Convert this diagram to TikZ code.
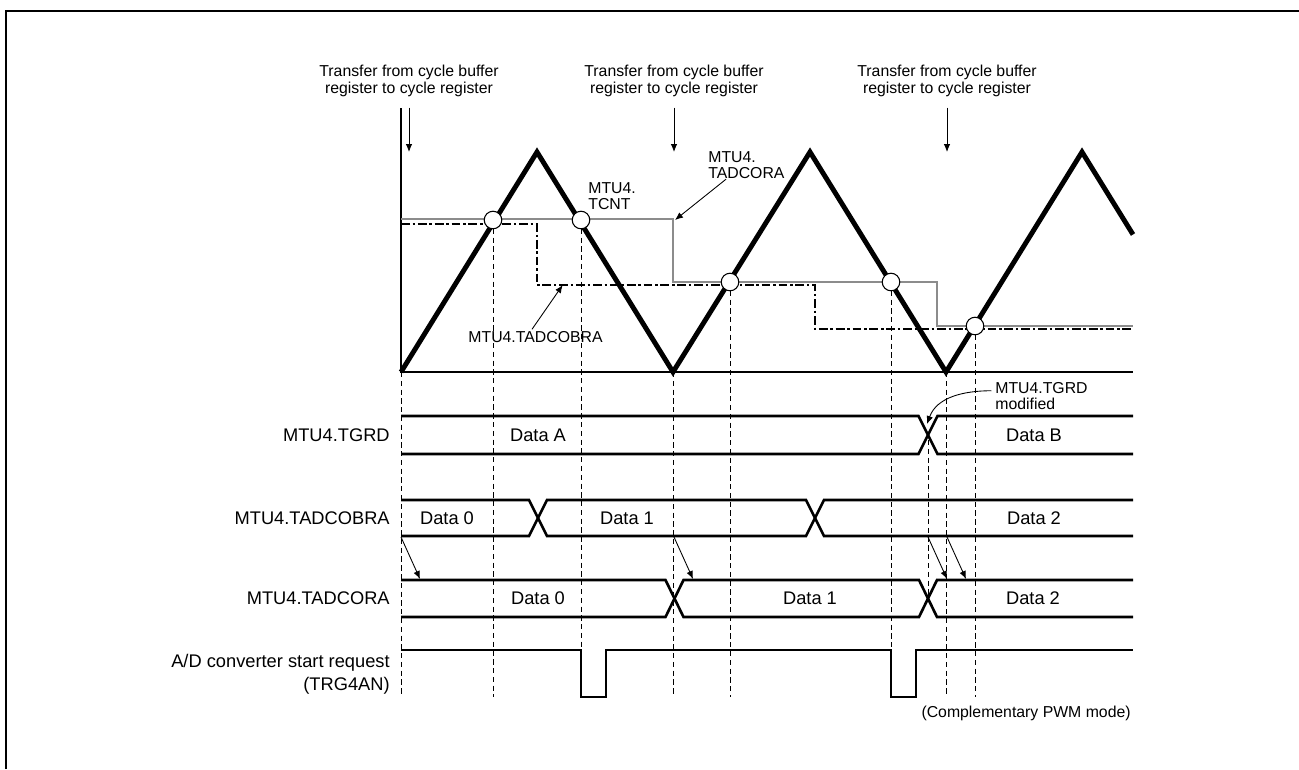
\documentclass[tikz,border=0pt]{standalone}
\usepackage{fontspec}
\setmainfont{Liberation Sans}
\usetikzlibrary{arrows.meta,positioning,calc}
\tikzset{
  nyil/.style={-{Latex[length=1.6mm,width=1.3mm]},line width=0.5pt},
  kis/.style={font=\fontsize{9}{9.5}\selectfont,inner sep=0pt},
  nagy/.style={font=\fontsize{10.4}{13}\selectfont,inner sep=0pt},
  jel/.style={line width=1.5pt},
  tcnt/.style={line width=2.8pt,line join=miter},
  szurke/.style={draw=black!45,line width=1.1pt},
  pontvonal/.style={line width=1pt,dash pattern=on 5pt off 1.6pt on 1.4pt off 1.6pt},
  szagg/.style={line width=0.5pt,dash pattern=on 3pt off 2pt},
  kor/.style={circle,draw,fill=white,inner sep=0pt,minimum size=10pt,line width=0.6pt},
}
\begin{document}
\begin{tikzpicture}[x=0.02cm,y=-0.02cm]
  \useasboundingbox (0,0) rectangle (1299,769);
  % keret
  \draw[line width=1.1pt] (6,769) -- (6,11) -- (1299,11);

  % atviteli cimkek
  \foreach \n/\x in {t1/409,t2/674,t3/947}{
    \node[kis,align=center] (\n) at (\x,81) {Transfer from cycle buffer\\register to cycle register};
    \coordinate (\n v) at (\x,152);
    \draw[nyil] ([yshift=-6pt]\n.south) -- (\n v);
  }

  % tengelyek
  \draw[line width=0.6pt] (401,108) -- (401,372) -- (1133,372);

  % szaggatott fuggolegesek
  \coordinate (alj) at (0,697);
  \foreach \x/\y in {401/372,493/220,581/220,673/372,730/282,891/282,946/372,975/326}
    \draw[szagg] (\x,\y) -- (\x,697);
  \draw[szagg] (928,440) -- (928,597);

  % TADCORA es TADCOBRA szintek
  \draw[szurke] (401,219) -- (673,219) -- (673,282) -- (937,282) -- (937,326) -- (1133,326);
  \draw[pontvonal] (401,224) -- (537,224) -- (537,285) -- (815,285) -- (815,329) -- (1133,329);

  % TCNT haromszog
  \draw[tcnt] (401,372) -- (537,152) -- (673,372) -- (810,152) -- (946,372) -- (1082,152) -- (1133,234.5);

  % egyezesek
  \node[kor] (k1) at (493,220) {};
  \node[kor] (k2) at (581,220) {};
  \node[kor] (k3) at (730,282) {};
  \node[kor] (k4) at (891,282) {};
  \node[kor] (k5) at (975,326) {};

  % felso cimkek
  \node[kis,align=left,anchor=west] (ltcnt) at (588,196) {MTU4.\\TCNT};
  \node[kis,align=left,anchor=west] (lcora) at (708,165) {MTU4.\\TADCORA};
  \coordinate (cora) at (675,220);
  \draw[nyil] ($(lcora.south west)+(18,0)$) -- (cora);
  \node[kis] (lcobra) at (535.5,337) {MTU4.TADCOBRA};
  \coordinate (cobra) at (562.7,285);
  \draw[nyil] ([xshift=-2pt,yshift=1pt]lcobra.north) -- (cobra);

  % TGRD
  \draw[jel] (401,416) -- (918.5,416) -- (937.5,454) -- (1133,454);
  \draw[jel] (401,454) -- (918.5,454) -- (937.5,416) -- (1133,416);
  % TADCOBRA
  \draw[jel] (401,500) -- (529,500) -- (547,536) -- (806,536) -- (824,500) -- (1133,500);
  \draw[jel] (401,536) -- (529,536) -- (547,500) -- (806,500) -- (824,536) -- (1133,536);
  % TADCORA
  \draw[jel] (401,580) -- (665.5,580) -- (683.5,617) -- (919,617) -- (937,580) -- (1133,580);
  \draw[jel] (401,617) -- (665.5,617) -- (683.5,580) -- (919,580) -- (937,617) -- (1133,617);
  % TRG4AN
  \draw[jel] (401,650) -- (581,650) -- (581,697) -- (606,697) -- (606,650) -- (891,650)
    -- (891,697) -- (916,697) -- (916,650) -- (1133,650);

  % sorcimkek
  \node[nagy,anchor=east] (ntgrd) at (390,435) {MTU4.TGRD};
  \node[nagy,anchor=east] (ncobra) at (390,518) {MTU4.TADCOBRA};
  \node[nagy,anchor=east] (ncora) at (390,598) {MTU4.TADCORA};
  \node[nagy,anchor=east,align=right] (ntrg) at (390,674) {A/D converter start request\\(TRG4AN)};

  % adatok
  \node[nagy] (da) at (538,435) {Data A};
  \node[nagy] (db) at (1034,435) {Data B};
  \node[nagy] (b0) at (447,518) {Data 0};
  \node[nagy] (b1) at (627,518) {Data 1};
  \node[nagy] (b2) at (1034,518) {Data 2};
  \node[nagy] (a0) at (538,598) {Data 0};
  \node[nagy] (a1) at (810,598) {Data 1};
  \node[nagy] (a2) at (1033,598) {Data 2};

  % atvitel TADCOBRA -> TADCORA
  \foreach \i/\x/\xx in {1/401/420,2/674/693,3/928/947,4/947/966}{
    \coordinate (f\i) at (\x,537);
    \coordinate (g\i) at (\xx,579);
    \draw[nyil] (f\i) -- (g\i);
  }

  % TGRD modositas
  \node[kis,align=left,anchor=west] (mod) at (995,396) {MTU4.TGRD\\modified};
  \coordinate (tgx) at (927,424);
  \draw[nyil] ([xshift=-2pt,yshift=3pt]mod.west) to[out=180,in=70] (tgx);

  \node[kis,anchor=east] (mode) at (1131,713) {(Complementary PWM mode)};
\end{tikzpicture}
\end{document}
